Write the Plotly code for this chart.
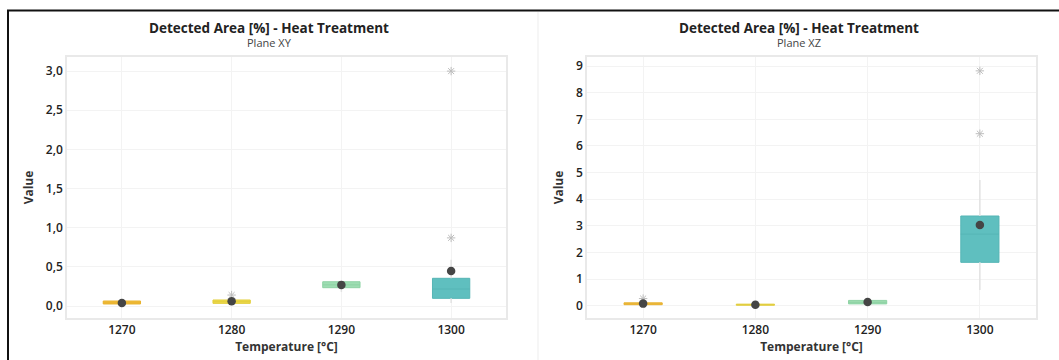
import plotly.graph_objects as go

# Temperature groups
temperatures = ["1270", "1280", "1290", "1300"]
box_colors = ["#F2BE3C", "#EEDA4C", "#9EDDB2", "#5FBFBF"]
edge_colors = ["#E8B22E", "#E2CE3C", "#8ED2A4", "#55B5B5"]
xz_box_colors = ["#EEC060", "#E2CF78", "#9EDDB2", "#5FBFBF"]

# Plane XY summary statistics
xy_lower = [0.02, 0.03, 0.18, 0.04]
xy_q1 = [0.026, 0.034, 0.234, 0.098]
xy_median = [0.04, 0.055, 0.27, 0.217]
xy_q3 = [0.064, 0.077, 0.31, 0.354]
xy_upper = [0.07, 0.08, 0.31, 0.59]
xy_mean = [0.04, 0.06, 0.27, 0.447]
xy_outliers = [[], [0.14], [], [0.87, 3.0]]

# Plane XZ summary statistics
xz_lower = [0.03, 0.01, 0.05, 0.59]
xz_q1 = [0.04, 0.02, 0.07, 1.63]
xz_median = [0.07, 0.04, 0.13, 2.69]
xz_q3 = [0.11, 0.06, 0.2, 3.37]
xz_upper = [0.12, 0.07, 0.21, 4.72]
xz_mean = [0.08, 0.04, 0.14, 3.03]
xz_outliers = [[0.27], [], [], [6.46, 8.82]]

W, H = 1059, 360
FONT = "Open Sans"


def px_x(p):
    return p / W


def px_y(p):
    return 1 - p / H


fig = go.Figure()


def add_panel(xa, ya, lower, q1, med, q3, upper, mean, outliers, fills):
    # whiskers
    wx, wy = [], []
    for c, lo, a, b, hi in zip(temperatures, lower, q1, q3, upper):
        wx += [c, c, None, c, c, None]
        wy += [lo, a, None, b, hi, None]
    fig.add_trace(go.Scatter(x=wx, y=wy, mode="lines", xaxis=xa, yaxis=ya,
                             line=dict(color="#E2E2E2", width=1.5),
                             hoverinfo="skip", showlegend=False))
    # boxes
    for i, c in enumerate(temperatures):
        fig.add_trace(go.Box(x=[c], q1=[q1[i]], median=[med[i]], q3=[q3[i]],
                             lowerfence=[q1[i]], upperfence=[q3[i]],
                             width=0.34, whiskerwidth=0,
                             fillcolor=fills[i],
                             line=dict(color=edge_colors[i], width=1),
                             xaxis=xa, yaxis=ya, showlegend=False))
    # outliers
    ox, oy = [], []
    for c, vals in zip(temperatures, outliers):
        for v in vals:
            ox.append(c)
            oy.append(v)
    fig.add_trace(go.Scatter(x=ox, y=oy, mode="markers", xaxis=xa, yaxis=ya,
                             marker=dict(symbol="asterisk", size=7,
                                         line=dict(color="#BDBDBD", width=1)),
                             showlegend=False))
    # means
    fig.add_trace(go.Scatter(x=temperatures, y=mean, mode="markers",
                             xaxis=xa, yaxis=ya,
                             marker=dict(color="#454545", size=8.5),
                             showlegend=False))


add_panel("x", "y", xy_lower, xy_q1, xy_median, xy_q3, xy_upper, xy_mean,
          xy_outliers, box_colors)
add_panel("x2", "y2", xz_lower, xz_q1, xz_median, xz_q3, xz_upper, xz_mean,
          xz_outliers, xz_box_colors)

tick_font = dict(family=FONT, size=12, color="#222222", weight=600)
title_font = dict(family=FONT, size=12, color="#333333", weight=700)

xaxis_common = dict(type="category", categoryorder="array", categoryarray=temperatures,
                    range=[-0.5, 3.5], showgrid=True, gridcolor="#F3F3F3",
                    showline=True, mirror=True, linecolor="#E9E9E9", linewidth=1.5,
                    zeroline=False, ticks="", tickfont=tick_font,
                    title=dict(text="Temperature [°C]", font=title_font, standoff=3),
                    fixedrange=True)
yaxis_common = dict(showgrid=True, gridcolor="#F3F3F3", showline=True, mirror=True,
                    linecolor="#E9E9E9", linewidth=1.5, zeroline=False, ticks="",
                    tickfont=tick_font,
                    title=dict(text="Value", font=title_font, standoff=10))

fig.update_layout(
    width=W, height=H,
    margin=dict(l=0, r=0, t=0, b=0),
    paper_bgcolor="white", plot_bgcolor="white",
    separators=",.",
    font=dict(family=FONT),
    xaxis=dict(domain=[px_x(67), px_x(506)], anchor="y", **xaxis_common),
    yaxis=dict(domain=[px_y(318), px_y(57)], anchor="x",
               range=[-0.153, 3.18], dtick=0.5, tickformat=".1f", **yaxis_common),
    xaxis2=dict(domain=[px_x(587), px_x(1036)], anchor="y2", **xaxis_common),
    yaxis2=dict(domain=[px_y(318), px_y(57)], anchor="x2",
                range=[-0.46, 9.34], dtick=1, **yaxis_common),
)

# titles and subtitles
for cx, plane in [(269, "Plane XY"), (799, "Plane XZ")]:
    fig.add_annotation(x=px_x(cx), y=px_y(28), xref="paper", yref="paper",
                       text="Detected Area [%] - Heat Treatment", showarrow=False,
                       xanchor="center", yanchor="middle",
                       font=dict(family=FONT, size=13.5, color="#222222", weight=700))
    fig.add_annotation(x=px_x(cx), y=px_y(42), xref="paper", yref="paper",
                       text=plane, showarrow=False,
                       xanchor="center", yanchor="middle",
                       font=dict(family=FONT, size=11, color="#444444"))

# frame lines
fig.add_shape(type="line", xref="paper", yref="paper",
              x0=px_x(7), x1=1, y0=px_y(10.5), y1=px_y(10.5),
              line=dict(color="#111111", width=2))
fig.add_shape(type="line", xref="paper", yref="paper",
              x0=px_x(8), x1=px_x(8), y0=px_y(10), y1=0,
              line=dict(color="#111111", width=2))
fig.add_shape(type="line", xref="paper", yref="paper",
              x0=px_x(538), x1=px_x(538), y0=px_y(12), y1=0,
              line=dict(color="#EDEDED", width=1))

fig.write_html("out.html")
